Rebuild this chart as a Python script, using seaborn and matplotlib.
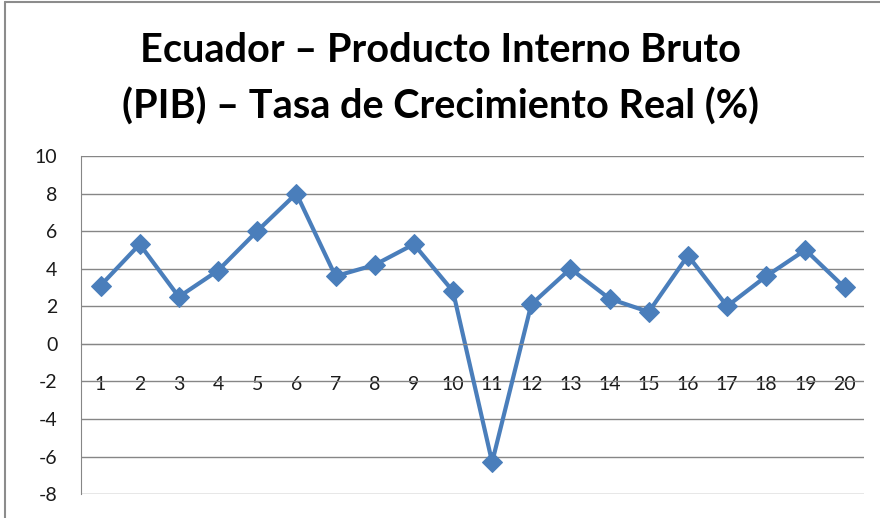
import matplotlib
matplotlib.use("Agg")
import numpy as np
import pandas as pd
import seaborn as sns
import matplotlib.pyplot as plt
from matplotlib.lines import Line2D

sns.set_style("white")
plt.rcParams['font.family'] = ['Lato', 'DejaVu Sans']
plt.rcParams['axes.unicode_minus'] = False

# data
periods = list(range(1, 21))
growth = [3.1, 5.3, 2.5, 3.9, 6.0, 8.0, 3.6, 4.2, 5.3, 2.8,
          -6.3, 2.1, 4.0, 2.4, 1.7, 4.7, 2.0, 3.6, 5.0, 3.0]
y_ticks = [-8, -6, -4, -2, 0, 2, 4, 6, 8, 10]
title = "Ecuador \u2013 Producto Interno Bruto\n(PIB) \u2013 Tasa de Crecimiento Real (%)"

df = pd.DataFrame({"periodo": periods, "tasa": growth})

fig = plt.figure(figsize=(8.8, 5.18), dpi=100)
ax = fig.add_axes([0.092, 0.046, 0.89, 0.653])

grid_col = "#868686"
line_col = "#4A7EBB"

sns.lineplot(data=df, x="periodo", y="tasa", ax=ax, color=line_col,
             linewidth=3.0, marker="D", markersize=10.5,
             markeredgecolor=line_col, markerfacecolor=line_col)

ax.set_xlim(0.5, 20.5)
ax.set_ylim(-8, 10)
ax.set_yticks(y_ticks)
ax.set_xticks(periods)
ax.set_xticklabels([str(p) for p in periods])
ax.yaxis.grid(True, color=grid_col, linewidth=1.0)
ax.set_axisbelow(True)
ax.set(xlabel="", ylabel="")

for s in ["top", "right"]:
    ax.spines[s].set_visible(False)
ax.spines["left"].set_color(grid_col)
ax.spines["bottom"].set_color(grid_col)
ax.spines["bottom"].set_position(("data", 0))

ax.tick_params(axis="y", length=0, pad=17, labelsize=14, colors="#1a1a1a")
ax.tick_params(axis="x", length=0, pad=23, labelsize=14, colors="#1a1a1a")

fig.suptitle(title, y=0.938, fontsize=28.5, fontweight="bold",
             linespacing=1.6, color="black")

# chart area border (left and top edges visible)
fig.add_artist(Line2D([0.006, 0.006], [0, 0.996], transform=fig.transFigure,
                      color="#8c8c8c", linewidth=1.5))
fig.add_artist(Line2D([0.006, 1.0], [0.996, 0.996], transform=fig.transFigure,
                      color="#8c8c8c", linewidth=1.5))

fig.savefig("out.png", dpi=100)
